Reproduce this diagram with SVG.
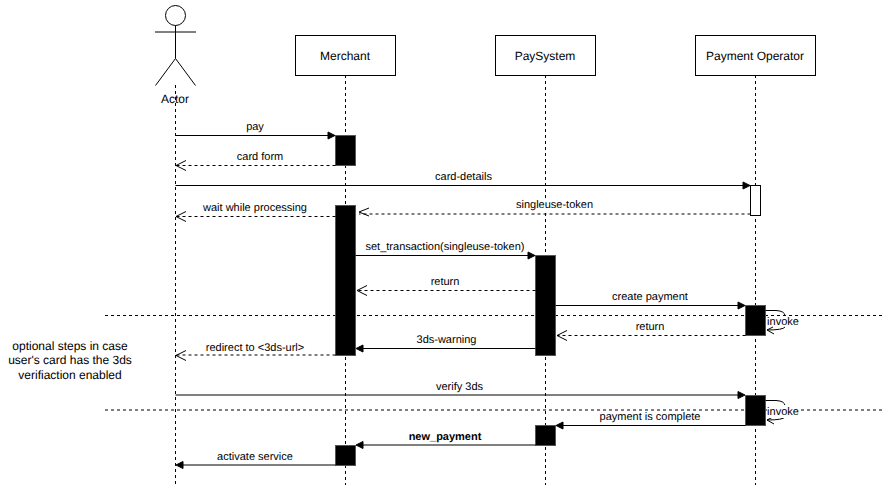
<svg xmlns="http://www.w3.org/2000/svg" width="892" height="492" viewBox="0 0 892 492">
<style>
text{font-family:"Liberation Sans",Arial,sans-serif;font-size:11px;fill:#000;text-anchor:middle;text-rendering:geometricPrecision}
.n{font-size:12px}
.b{font-weight:bold}
.box{fill:#fff;stroke:#000;stroke-width:1}
.life{fill:none;stroke:#000;stroke-dasharray:3 3}
.act{fill:#000;stroke:#555}
.m{fill:none;stroke:#000}
.d{fill:none;stroke:#000;stroke-dasharray:3 3}
.tip{fill:#000;stroke:#000}
.open{fill:none;stroke:#000}
.bg{fill:#fff;stroke:none}
</style>
<g id="connectors-lifelines">
<path class="life" d="M175.5 85V485"/>
<path class="life" d="M345.5 75V485"/>
<path class="life" d="M545.5 75V485"/>
<path class="life" d="M755.5 75V485"/>
</g>
<g id="separators">
<path class="d" d="M105 315.5H883"/>
<path class="d" d="M105 410H883"/>
</g>
<g id="actor">
<circle class="box" cx="175.5" cy="15.5" r="10"/>
<path class="m" d="M175.5 25.5V58.5M155 32H196M155.5 85.5L175.5 58.5L195.5 85.5"/>
<text class="n" x="175" y="103">Actor</text>
</g>
<g id="merchant"><rect class="box" x="295.5" y="35.5" width="100" height="40"/><text class="n" x="345" y="60">Merchant</text></g>
<g id="paysystem"><rect class="box" x="495.5" y="35.5" width="100" height="40"/><text class="n" x="545" y="60">PaySystem</text></g>
<g id="operator"><rect class="box" x="695.5" y="35.5" width="120" height="40"/><text class="n" x="755" y="60">Payment Operator</text></g>
<g id="activations">
<rect class="act" x="335.5" y="135.5" width="20" height="30"/>
<rect class="act" x="335.5" y="205.5" width="20" height="150"/>
<rect class="act" x="335.5" y="445.5" width="20" height="20"/>
<rect class="act" x="535.5" y="255.5" width="20" height="100"/>
<rect class="act" x="535.5" y="425.5" width="20" height="20"/>
<rect class="act" x="745.5" y="305.5" width="20" height="30"/>
<rect class="act" x="745.5" y="395.5" width="20" height="30"/>
<rect class="box" x="750.5" y="185.5" width="10" height="30"/>
</g>
<g id="connectors">
<path class="m" d="M175.5 135.5H328"/><path class="tip" d="M335 135.5L328 132V139Z"/>
<path class="d" d="M335.5 165.5H176"/><path class="open" d="M186 160.5L176 165.5L186 170.5"/>
<path class="m" d="M175.5 185.5H743"/><path class="tip" d="M750 185.500L743 182V189Z"/>
<path class="d" d="M750.500 214H359"/><path class="open" d="M369 208L359 212L369 216"/>
<path class="d" d="M335.5 216.5H176"/><path class="open" d="M186 211.5L176 216.5L186 221.5"/>
<path class="m" d="M355.5 255.5H528"/><path class="tip" d="M535 255.5L528 252V259Z"/>
<path class="d" d="M535.5 290.5H357"/><path class="open" d="M367 285.5L357 290.5L367 295.5"/>
<path class="m" d="M555.5 305.5H738"/><path class="tip" d="M745 305.5L738 302V309Z"/>
<path class="d" d="M745.5 335.5H557"/><path class="open" d="M567 330.5L557 335.5L567 340.5"/>
<path class="m" d="M535.5 348.5H363"/><path class="tip" d="M356 348.5L363 345V352Z"/>
<path class="d" d="M335.5 355H176"/><path class="open" d="M186 350.5L176 355.5L186 360.5"/>
<path class="m" d="M175.5 395H738"/><path class="tip" d="M745 395L738 391.500V398.500Z"/>
<path class="m" d="M745.5 425.500H563"/><path class="tip" d="M556 425.500L563 422V429Z"/>
<path class="m" d="M535.5 445H363"/><path class="tip" d="M356 445L363 441.500V448.500Z"/>
<path class="m" d="M335.5 465H183"/><path class="tip" d="M176 465L183 461.500V468.500Z"/>
<path class="m" d="M765.500 310.500H776Q785 311 785 316"/>
<path class="m" d="M785 327Q783 330 767 330"/><path class="open" d="M773 327L767 330L774 334"/>
<path class="m" d="M765.500 400.500H776Q785 401 785 406"/>
<path class="m" d="M785 417Q783 420 767 420"/><path class="open" d="M773 417L767 420L774 424"/>
</g>
<g id="labels">
<rect class="bg" x="516" y="198" width="77" height="14"/>
<rect class="bg" x="767" y="405" width="32" height="13"/>
<text x="255" y="130">pay</text>
<text x="260" y="160">card form</text>
<text x="463.500" y="180">card-details</text>
<text x="554.500" y="208">singleuse-token</text>
<text x="255" y="211">wait while processing</text>
<text x="445" y="250">set_transaction(singleuse-token)</text>
<text x="445" y="285">return</text>
<text x="650" y="300">create payment</text>
<text x="650" y="330">return</text>
<text x="446.500" y="343">3ds-warning</text>
<text x="255" y="351">redirect to &lt;3ds-url&gt;</text>
<text x="459.500" y="390">verify 3ds</text>
<text x="650" y="420">payment is complete</text>
<text class="b" x="445" y="440">new_payment</text>
<text x="255" y="460">activate service</text>
<text x="783" y="325">invoke</text>
<text x="783" y="415">invoke</text>
<text class="n" x="70" y="350">optional steps in case</text>
<text class="n" x="70" y="364">user's card has the 3ds</text>
<text class="n" x="70" y="379">verifiaction enabled</text>
</g>
</svg>
